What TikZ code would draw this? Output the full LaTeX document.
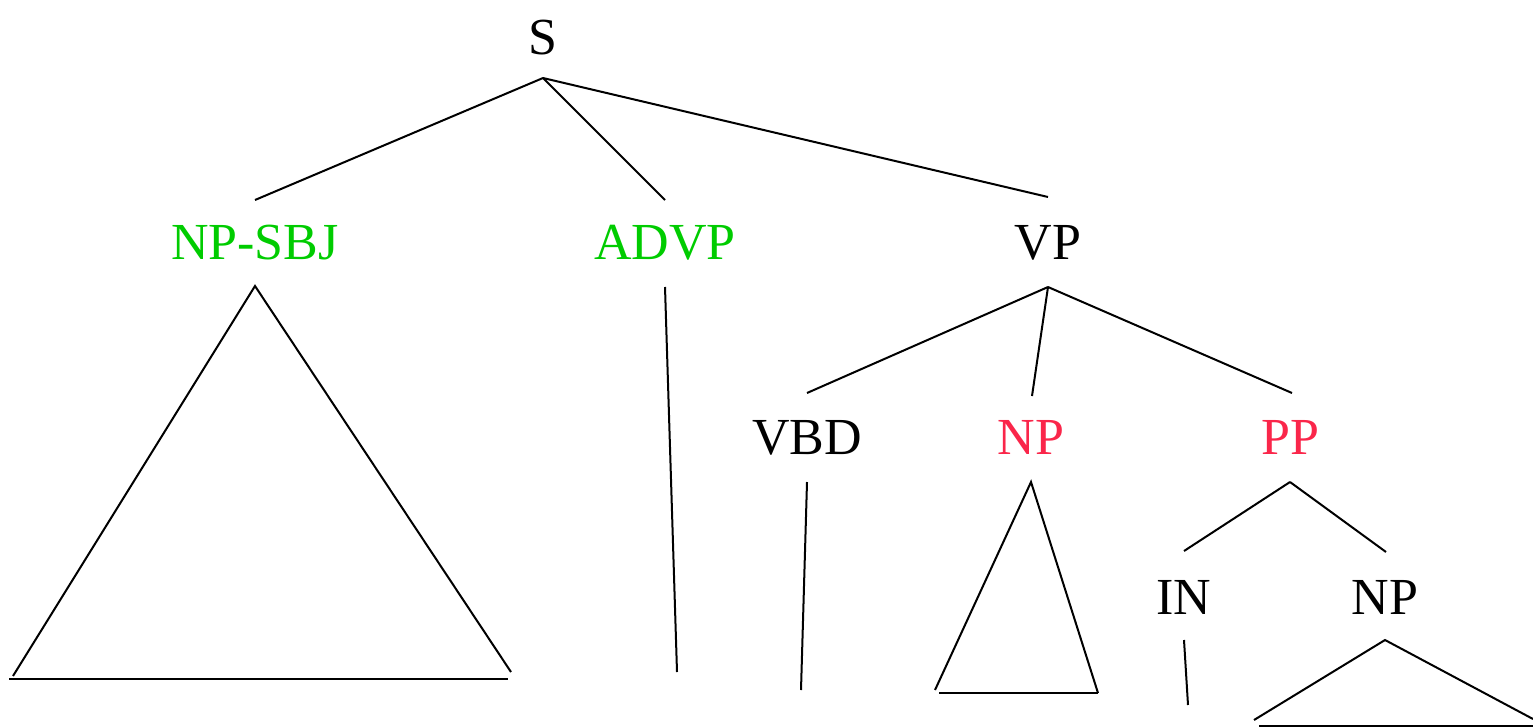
\documentclass[tikz,border=0pt]{standalone}
\usepackage{fontspec}
\setmainfont{Liberation Serif}
\definecolor{tgreen}{RGB}{0,204,0}
\definecolor{tred}{RGB}{250,38,74}
\begin{document}
\begin{tikzpicture}[x=1pt,y=-1pt,
  lab/.style={anchor=base,inner sep=0pt,font=\fontsize{52}{60}\selectfont},
  edge/.style={line width=2pt}]
\useasboundingbox (0,0) rectangle (1533,726);
% labels
\node[lab] (S) at (543,54) {S};
\node[lab,text=tgreen] (NPSBJ) at (255,259) {NP-SBJ};
\node[lab,text=tgreen] (ADVP) at (665,259) {ADVP};
\node[lab] (VP) at (1048,259) {VP};
\node[lab] (VBD) at (807,454) {VBD};
\node[lab,text=tred] (NP1) at (1031,454) {NP};
\node[lab,text=tred] (PP) at (1290,454) {PP};
\node[lab] (IN) at (1184,614) {IN};
\node[lab] (NP2) at (1385,614) {NP};
% endpoints
\coordinate (Sb) at (543,78);
\coordinate (NPSBJt) at (255,200);
\coordinate (ADVPt) at (665,200);
\coordinate (VPt) at (1048,197);
\coordinate (NPSBJb) at (255,286);
\coordinate (ADVPb) at (665,287);
\coordinate (VPb) at (1048,287);
\coordinate (VBDt) at (807,393);
\coordinate (NP1t) at (1032,396);
\coordinate (PPt) at (1292,393);
\coordinate (VBDb) at (807,482);
\coordinate (NP1b) at (1031,482);
\coordinate (PPb) at (1290,482);
\coordinate (INt) at (1184,551);
\coordinate (NP2t) at (1386,552);
\coordinate (INb) at (1184,640);
\coordinate (NP2b) at (1385,640);
% leaves
\coordinate (L1a) at (13,676);
\coordinate (L1b) at (511,672);
\coordinate (B1a) at (9,678.5);
\coordinate (B1b) at (508,678.5);
\coordinate (L2) at (677,672);
\coordinate (L3) at (801,690);
\coordinate (L4a) at (935,690);
\coordinate (L4b) at (1098,693);
\coordinate (B4a) at (939,692.5);
\coordinate (B4b) at (1098,692.5);
\coordinate (L5) at (1188,705);
\coordinate (L6a) at (1254,720);
\coordinate (L6b) at (1533,719);
\coordinate (B6a) at (1259,726);
\coordinate (B6b) at (1533,726);
% edges
\draw[edge] (Sb) -- (NPSBJt);
\draw[edge] (Sb) -- (ADVPt);
\draw[edge] (Sb) -- (VPt);
\draw[edge] (L1a) -- (NPSBJb) -- (L1b);
\draw[edge] (B1a) -- (B1b);
\draw[edge] (ADVPb) -- (L2);
\draw[edge] (VPb) -- (VBDt);
\draw[edge] (VPb) -- (NP1t);
\draw[edge] (VPb) -- (PPt);
\draw[edge] (VBDb) -- (L3);
\draw[edge] (L4a) -- (NP1b) -- (L4b);
\draw[edge] (B4a) -- (B4b);
\draw[edge] (PPb) -- (INt);
\draw[edge] (PPb) -- (NP2t);
\draw[edge] (INb) -- (L5);
\draw[edge] (L6a) -- (NP2b) -- (L6b);
\draw[edge] (B6a) -- (B6b);
\end{tikzpicture}
\end{document}
